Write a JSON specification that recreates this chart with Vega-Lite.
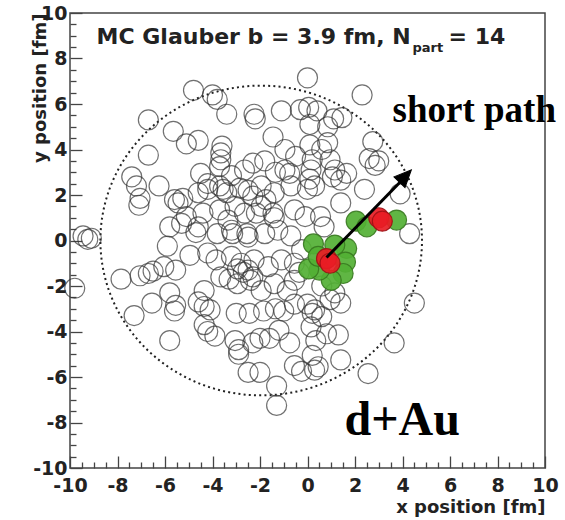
{
  "$schema": "https://vega.github.io/schema/vega-lite/v6.json",
  "width": 475,
  "height": 455,
  "autosize": {"type": "none"},
  "padding": {"left": 70, "top": 13, "right": 20, "bottom": 52},
  "background": "white",
  "view": {"stroke": "#444", "strokeWidth": 1.5},
  "datasets": {
    "gray": [
      {"x":0.0,"y":7.15},{"x":2.3,"y":6.4},{"x":-4.8,"y":6.6},{"x":-4.0,"y":6.4},{"x":-3.8,"y":6.2},{"x":-3.4,"y":5.55},{"x":-6.7,"y":5.3},{"x":-2.25,"y":5.55},{"x":-2.2,"y":5.35},{"x":-1.1,"y":5.7},{"x":-0.3,"y":5.75},{"x":0.05,"y":5.85},{"x":0.4,"y":5.7},{"x":1.1,"y":5.35},{"x":1.45,"y":5.4},{"x":0.1,"y":5.1},{"x":0.85,"y":5.0},
      {"x":-5.65,"y":4.8},{"x":-5.1,"y":4.25},{"x":-4.6,"y":4.4},{"x":-1.45,"y":4.55},{"x":-3.6,"y":4.15},{"x":-0.95,"y":4.0},{"x":0.1,"y":4.2},{"x":0.85,"y":4.3},{"x":0.6,"y":4.0},{"x":2.75,"y":4.35},
      {"x":-6.7,"y":3.75},{"x":-3.65,"y":3.85},{"x":-3.65,"y":3.55},{"x":-3.7,"y":3.25},{"x":-1.8,"y":3.5},{"x":-2.3,"y":3.4},{"x":-2.65,"y":3.1},{"x":-1.35,"y":3.0},{"x":-0.95,"y":3.1},{"x":0.15,"y":3.1},{"x":0.2,"y":3.55},{"x":0.95,"y":3.55},{"x":-0.5,"y":3.7},{"x":2.6,"y":3.6},{"x":2.85,"y":3.3},{"x":3.0,"y":3.5},{"x":-4.5,"y":2.95},{"x":-3.2,"y":2.85},{"x":-7.4,"y":2.8},{"x":1.15,"y":3.1},
      {"x":-7.2,"y":2.4},{"x":-6.25,"y":2.4},{"x":-4.2,"y":2.5},{"x":-4.2,"y":2.25},{"x":-3.7,"y":2.4},{"x":-3.4,"y":2.1},{"x":-3.55,"y":2.25},{"x":-2.85,"y":2.3},{"x":-2.5,"y":2.2},{"x":-1.95,"y":2.4},{"x":-1.4,"y":2.1},{"x":-0.7,"y":2.4},{"x":0.0,"y":2.25},{"x":-4.6,"y":2.1},{"x":-0.75,"y":2.95},{"x":0.1,"y":2.7},{"x":1.05,"y":2.8},{"x":1.65,"y":2.95},{"x":2.4,"y":2.25},{"x":3.9,"y":2.05},{"x":1.4,"y":1.65},{"x":-2.3,"y":1.95},{"x":-1.75,"y":1.8},{"x":1.4,"y":2.65},{"x":0.3,"y":2.4},
      {"x":-7.05,"y":1.85},{"x":-7.1,"y":1.55},{"x":-5.6,"y":1.8},{"x":-5.25,"y":1.85},{"x":-5.45,"y":1.65},{"x":-5.1,"y":1.05},{"x":-4.4,"y":1.2},{"x":-3.7,"y":1.35},{"x":-3.05,"y":1.5},{"x":-2.65,"y":1.2},{"x":-2.15,"y":1.2},{"x":-1.95,"y":1.5},{"x":-1.45,"y":1.2},{"x":-1.4,"y":1.0},{"x":-0.55,"y":1.35},{"x":-0.1,"y":1.05},{"x":0.55,"y":1.05},{"x":0.7,"y":0.6},
      {"x":-5.8,"y":0.6},{"x":-5.3,"y":0.75},{"x":-4.7,"y":0.35},{"x":-4.6,"y":0.6},{"x":-3.8,"y":0.3},{"x":-3.35,"y":0.9},{"x":-3.2,"y":0.45},{"x":-3.15,"y":0.3},{"x":-2.55,"y":0.3},{"x":-2.5,"y":0.15},{"x":-1.8,"y":0.3},{"x":-1.25,"y":0.45},{"x":-0.7,"y":0.2},{"x":4.3,"y":0.3},{"x":-9.45,"y":0.2},{"x":-9.25,"y":0.05},{"x":-9.1,"y":0.1},{"x":-5.9,"y":-0.25},{"x":-4.95,"y":-0.65},
      {"x":-4.2,"y":-0.55},{"x":-3.85,"y":-0.85},{"x":-3.2,"y":-0.7},{"x":-2.8,"y":-1.0},{"x":-2.25,"y":-0.85},{"x":-1.65,"y":-1.15},{"x":-1.1,"y":-0.85},{"x":-0.55,"y":-1.0},{"x":-0.25,"y":-0.4},
      {"x":-9.8,"y":-2.1},{"x":-7.85,"y":-1.7},{"x":-7.05,"y":-1.55},{"x":-6.7,"y":-1.45},{"x":-6.5,"y":-1.35},{"x":-6.05,"y":-1.15},{"x":-5.55,"y":-1.3},{"x":-3.3,"y":-1.7},{"x":-2.95,"y":-1.25},{"x":-2.7,"y":-1.4},{"x":-2.5,"y":-1.3},{"x":-2.3,"y":-1.6},{"x":-3.65,"y":-1.6},{"x":-2.95,"y":-1.9},{"x":-2.4,"y":-1.75},{"x":-1.4,"y":-1.9},{"x":-0.55,"y":-1.75},{"x":-0.35,"y":-1.4},
      {"x":-6.55,"y":-2.75},{"x":-5.8,"y":-2.3},{"x":-5.55,"y":-2.85},{"x":-5.6,"y":-3.1},{"x":-4.6,"y":-2.7},{"x":-4.35,"y":-2.2},{"x":-4.35,"y":-2.9},{"x":-4.1,"y":-3.05},{"x":-1.95,"y":-2.2},{"x":-0.85,"y":-2.2},{"x":-0.55,"y":-2.8},{"x":0.0,"y":-2.8},{"x":1.15,"y":-2.3},{"x":1.4,"y":-2.75},{"x":0.3,"y":-3.05},{"x":4.5,"y":-2.75},{"x":-3.0,"y":-3.2},{"x":-2.45,"y":-3.2},{"x":-1.85,"y":-3.1},{"x":-1.35,"y":-3.0},{"x":-1.0,"y":-3.1},{"x":0.6,"y":-2.0},{"x":0.95,"y":-2.6},
      {"x":-7.3,"y":-3.3},{"x":-4.35,"y":-3.7},{"x":-4.2,"y":-4.0},{"x":-3.9,"y":-4.2},{"x":0.2,"y":-3.2},{"x":0.15,"y":-3.8},{"x":-1.2,"y":-3.95},{"x":0.6,"y":-3.35},{"x":0.8,"y":-4.1},{"x":1.3,"y":-4.15},
      {"x":-5.8,"y":-4.4},{"x":-3.05,"y":-4.4},{"x":-2.9,"y":-4.8},{"x":-2.9,"y":-5.0},{"x":-2.3,"y":-4.5},{"x":-2.0,"y":-4.3},{"x":-1.6,"y":-4.3},{"x":-0.75,"y":-4.5},{"x":0.35,"y":-4.4},{"x":3.65,"y":-4.5},{"x":0.2,"y":-5.05},{"x":1.4,"y":-5.25},
      {"x":-2.5,"y":-5.8},{"x":-2.0,"y":-5.8},{"x":-1.3,"y":-6.4},{"x":-1.3,"y":-7.25},{"x":-0.55,"y":-5.5},{"x":-0.25,"y":-5.75},{"x":0.3,"y":-5.7},{"x":0.45,"y":-5.55},{"x":2.55,"y":-5.85}
    ],
    "green": [
      {"x":2.05,"y":0.85},{"x":2.5,"y":0.6},{"x":3.75,"y":0.9},
      {"x":0.25,"y":-0.15},{"x":1.65,"y":-0.35},{"x":1.6,"y":-0.95},{"x":1.5,"y":-1.45},{"x":1.0,"y":-1.75},{"x":0.5,"y":-1.3},{"x":0.05,"y":-1.25},{"x":1.15,"y":-0.2},{"x":0.45,"y":-0.7}
    ],
    "red": [
      {"x":3.0,"y":1.0},{"x":3.15,"y":0.85},{"x":0.8,"y":-0.8},{"x":0.95,"y":-1.0}
    ],
    "ellipse": [{"x":-1.95,"y":0}],
    "arrow": [{"x":0.8,"y":-0.75,"o":0},{"x":4.1,"y":2.78,"o":1}],
    "head": [{"x":4.37,"y":3.1}],
    "title": [{"x":-8.88,"y":8.62,"t":"MC Glauber b = 3.9 fm, N"},{"x":5.94,"y":8.62,"t":"= 14"}],
    "sub": [{"x":4.42,"y":8.27,"t":"part"}],
    "short": [{"x":3.58,"y":5.23,"t":"short path"}],
    "dau": [{"x":1.56,"y":-8.56,"t":"d+Au"}]
  },
  "encoding": {
    "x": {
      "field": "x", "type": "quantitative",
      "scale": {"domain": [-10, 10], "nice": false, "zero": false},
      "axis": {
        "values": [-10,-9.5,-9,-8.5,-8,-7.5,-7,-6.5,-6,-5.5,-5,-4.5,-4,-3.5,-3,-2.5,-2,-1.5,-1,-0.5,0,0.5,1,1.5,2,2.5,3,3.5,4,4.5,5,5.5,6,6.5,7,7.5,8,8.5,9,9.5,10],
        "title": "x position [fm]",
        "titleX": 475, "titleY": 44, "titleAlign": "right", "titleBaseline": "alphabetic",
        "titleFont": "DejaVu Sans", "titleFontWeight": "bold", "titleFontSize": 18, "titleColor": "#222",
        "labelExpr": "datum.value % 2 == 0 ? toString(datum.value) : ''",
        "labelFont": "DejaVu Sans", "labelFontWeight": "bold", "labelFontSize": 19, "labelColor": "#222",
        "labelPadding": 20, "labelOverlap": false, "labelFlush": false, "labelBound": false,
        "tickSize": {"condition": {"test": "datum.value % 2 == 0", "value": -12}, "value": -6},
        "tickColor": "#444", "tickWidth": 1.3,
        "domain": false, "grid": false
      }
    },
    "y": {
      "field": "y", "type": "quantitative",
      "scale": {"domain": [-10, 10], "nice": false, "zero": false},
      "axis": {
        "values": [-10,-9.5,-9,-8.5,-8,-7.5,-7,-6.5,-6,-5.5,-5,-4.5,-4,-3.5,-3,-2.5,-2,-1.5,-1,-0.5,0,0.5,1,1.5,2,2.5,3,3.5,4,4.5,5,5.5,6,6.5,7,7.5,8,8.5,9,9.5,10],
        "title": "y position [fm]",
        "titleX": -25, "titleY": 0, "titleAngle": 270, "titleAlign": "right", "titleBaseline": "alphabetic",
        "titleFont": "DejaVu Sans", "titleFontWeight": "bold", "titleFontSize": 18, "titleColor": "#222",
        "labelExpr": "datum.value % 2 == 0 ? toString(datum.value) : ''",
        "labelFont": "DejaVu Sans", "labelFontWeight": "bold", "labelFontSize": 19, "labelColor": "#222",
        "labelPadding": 15, "labelOverlap": false, "labelFlush": false, "labelBound": false,
        "tickSize": {"condition": {"test": "datum.value % 2 == 0", "value": -12}, "value": -6},
        "tickColor": "#444", "tickWidth": 1.3,
        "domain": false, "grid": false
      }
    }
  },
  "layer": [
    {"data": {"name": "ellipse"}, "mark": {"type": "point", "shape": "M-1,0A1,0.963,0,1,1,1,0A1,0.963,0,1,1,-1,0Z", "size": 103427, "filled": false, "stroke": "#222", "strokeWidth": 2, "strokeDash": [2, 3.2], "opacity": 1}},
    {"data": {"name": "gray"}, "mark": {"type": "point", "shape": "circle", "size": 400, "filled": false, "stroke": "#333", "strokeWidth": 1.2, "strokeOpacity": 0.7, "opacity": 1}},
    {"data": {"name": "green"}, "mark": {"type": "point", "shape": "circle", "size": 400, "filled": true, "fill": "#52b034", "fillOpacity": 0.92, "stroke": "#37781f", "strokeWidth": 1.2, "strokeOpacity": 0.9, "opacity": 1}},
    {"data": {"name": "red"}, "mark": {"type": "point", "shape": "circle", "size": 400, "filled": true, "fill": "#e81c24", "fillOpacity": 0.92, "stroke": "#9c1014", "strokeWidth": 1.2, "strokeOpacity": 0.9, "opacity": 1}},
    {"data": {"name": "arrow"}, "mark": {"type": "line", "color": "black", "strokeWidth": 3}, "encoding": {"order": {"field": "o", "type": "quantitative"}}},
    {"data": {"name": "head"}, "mark": {"type": "point", "shape": "M0,0L0.45,1L-0.45,1Z", "size": 1156, "angle": 44, "filled": true, "fill": "black", "stroke": "black", "strokeWidth": 1, "opacity": 1}},
    {"data": {"name": "title"}, "mark": {"type": "text", "align": "left", "baseline": "alphabetic", "font": "DejaVu Sans", "fontWeight": "bold", "fontSize": 22, "color": "#222"}, "encoding": {"text": {"field": "t"}}},
    {"data": {"name": "sub"}, "mark": {"type": "text", "align": "left", "baseline": "alphabetic", "font": "DejaVu Sans", "fontWeight": "bold", "fontSize": 13, "color": "#222"}, "encoding": {"text": {"field": "t"}}},
    {"data": {"name": "short"}, "mark": {"type": "text", "align": "left", "baseline": "alphabetic", "font": "Liberation Serif", "fontWeight": "bold", "fontSize": 37, "color": "black"}, "encoding": {"text": {"field": "t"}}},
    {"data": {"name": "dau"}, "mark": {"type": "text", "align": "left", "baseline": "alphabetic", "font": "Liberation Serif", "fontWeight": "bold", "fontSize": 48, "color": "black"}, "encoding": {"text": {"field": "t"}}}
  ]
}
